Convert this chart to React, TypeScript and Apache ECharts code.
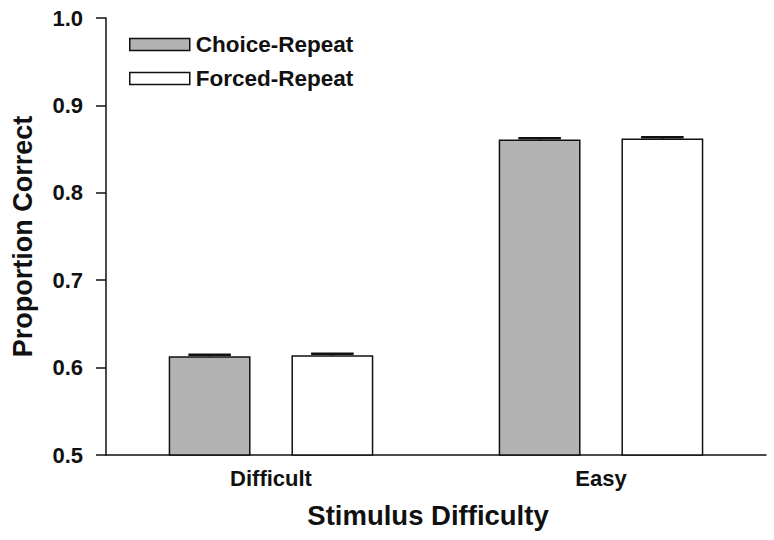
import React, { useEffect, useRef } from "react";
import * as echarts from "echarts";

const categories = ["Difficult", "Easy"];
const seriesNames = ["Choice-Repeat", "Forced-Repeat"];
const choiceRepeat = [0.613, 0.861];
const forcedRepeat = [0.614, 0.862];
const choiceErr = [0.0018, 0.0015];
const forcedErr = [0.0018, 0.0015];
const yTicks = [0.5, 0.6, 0.7, 0.8, 0.9, 1.0];

const FONT = '"Liberation Sans", Arial, Helvetica, sans-serif';
const BAR_CAT_GAP = 0.38;
const BAR_GAP = 0.5;

function errorSeries(values: number[], errs: number[], idx: number) {
  return {
    type: "custom",
    z: 5,
    data: values.map((v, i) => [i, v, errs[i]]),
    renderItem: (params: any, api: any) => {
      const band = api.size([1, 0])[0];
      const groupW = band * (1 - BAR_CAT_GAP);
      const barW = groupW / (2 + BAR_GAP);
      const offset = (barW + barW * BAR_GAP) / 2;
      const dx = idx === 0 ? -offset : offset;
      const top = api.coord([api.value(0), api.value(1) + api.value(2)]);
      const base = api.coord([api.value(0), api.value(1)]);
      const x = base[0] + dx;
      const capHalf = barW * 0.26;
      const style = { stroke: "#111", lineWidth: 2.5 };
      return {
        type: "group",
        children: [
          { type: "line", shape: { x1: x, y1: base[1], x2: x, y2: top[1] }, style },
          { type: "line", shape: { x1: x - capHalf, y1: top[1], x2: x + capHalf, y2: top[1] }, style },
        ],
      };
    },
  };
}

export default function App() {
  const ref = useRef<HTMLDivElement>(null);
  useEffect(() => {
    if (!ref.current) return;
    const chart = echarts.init(ref.current, null, { renderer: "svg" });
    const textBase = { fontFamily: FONT, fontWeight: "bold", color: "#111" };
    chart.setOption({
      animation: false,
      backgroundColor: "#fff",
      grid: { left: 106, right: 8, top: 18, bottom: 85, outerBoundsMode: "none", containLabel: false },
      legend: {
        data: seriesNames,
        orient: "vertical",
        left: 124,
        top: 28,
        itemWidth: 60,
        itemHeight: 12,
        itemGap: 11,
        itemStyle: { borderWidth: 1.5 },
        icon: "rect",
        textStyle: { ...textBase, fontSize: 22.5, lineHeight: 22, padding: [0, 0, 0, 1] },
      },
      xAxis: {
        type: "category",
        data: categories,
        name: "Stimulus Difficulty",
        nameLocation: "middle",
        nameGap: 46,
        nameTextStyle: { ...textBase, fontSize: 27.5, padding: [0, 16, 0, 0] },
        axisLine: { lineStyle: { color: "#111", width: 1.5 } },
        axisTick: { show: false },
        axisLabel: { ...textBase, fontSize: 22, margin: 12 },
      },
      yAxis: {
        type: "value",
        min: yTicks[0],
        max: yTicks[yTicks.length - 1],
        interval: 0.1,
        name: "Proportion Correct",
        nameLocation: "middle",
        nameGap: 70,
        nameTextStyle: { ...textBase, fontSize: 27 },
        axisLine: { show: true, lineStyle: { color: "#111", width: 1.5 } },
        axisTick: { show: true, length: 10, lineStyle: { color: "#111", width: 1.5 } },
        axisLabel: { ...textBase, fontSize: 22, margin: 23, formatter: (v: number) => v.toFixed(1) },
        splitLine: { show: false },
      },
      series: [
        {
          name: seriesNames[0],
          type: "bar",
          data: choiceRepeat,
          barGap: `${BAR_GAP * 100}%`,
          barCategoryGap: `${BAR_CAT_GAP * 100}%`,
          itemStyle: { color: "#b3b3b3", borderColor: "#111", borderWidth: 1.5 },
        },
        {
          name: seriesNames[1],
          type: "bar",
          data: forcedRepeat,
          barGap: `${BAR_GAP * 100}%`,
          barCategoryGap: `${BAR_CAT_GAP * 100}%`,
          itemStyle: { color: "#ffffff", borderColor: "#111", borderWidth: 1.5 },
        },
        errorSeries(choiceRepeat, choiceErr, 0),
        errorSeries(forcedRepeat, forcedErr, 1),
      ],
    });
    return () => chart.dispose();
  }, []);
  return (
    <div
      ref={ref}
      style={{ position: "fixed", left: 0, top: 0, width: 774, height: 540, background: "#fff" }}
    />
  );
}
